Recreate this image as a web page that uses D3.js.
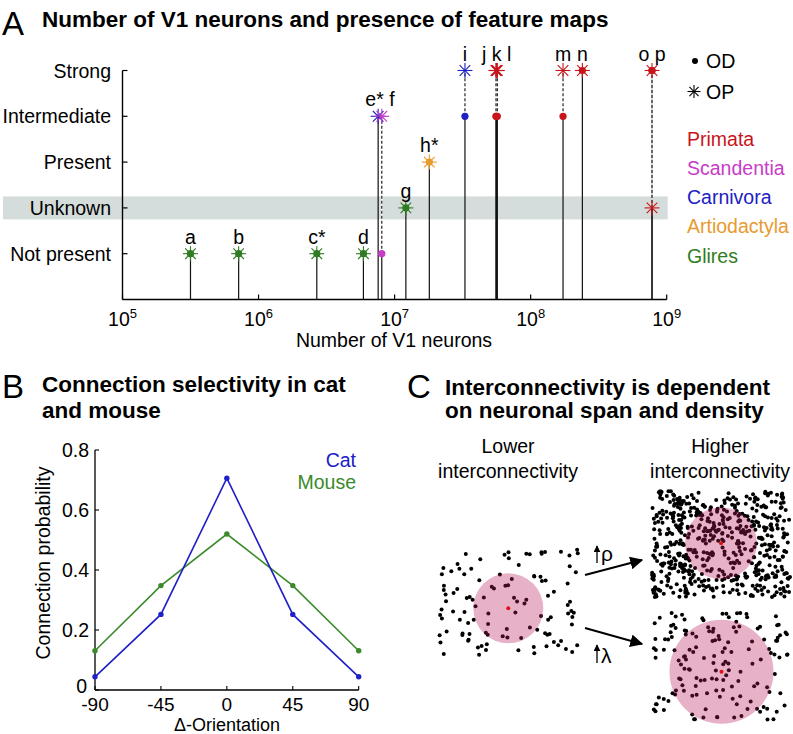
<!DOCTYPE html>
<html>
<head>
<meta charset="utf-8">
<script src="https://cdn.jsdelivr.net/npm/d3@7"></script>
<style>
  html, body { margin: 0; padding: 0; background: #fff; }
  svg { display: block; font-family: "Liberation Sans", Arial, Helvetica, sans-serif; }
</style>
</head>
<body>
<svg id="fig" width="793" height="734"></svg>
<script>
// ---------------- Panel A data ----------------
const levelNames = ["Not present", "Unknown", "Present", "Intermediate", "Strong"]; // values 1..5
const taxa = ["Primata", "Scandentia", "Carnivora", "Artiodactyla", "Glires"];
const taxonColors = ["#c8141a", "#c83cc8", "#2020c4", "#e89a30", "#2f7d22"];
const speciesLabels = ["a", "b", "c*", "d", "e*", "f", "g", "h*", "i", "j", "k", "l", "m", "n", "o", "p"];
const speciesNeurons = [3.16e5, 7.14e5, 2.68e6, 5.9e6, 7.57e6, 8.05e6, 1.21e7, 1.80e7, 3.29e7, 5.55e7, 5.62e7, 5.69e7, 1.73e8, 2.40e8, 7.8e8, 7.8e8];
const speciesTaxon = ["Glires", "Glires", "Glires", "Glires", "Carnivora", "Scandentia", "Glires", "Artiodactyla", "Carnivora", "Primata", "Primata", "Primata", "Primata", "Primata", "Primata", "Primata"];
// OD level (dot) and OP level (asterisk); null = not shown
const speciesOD = [1, 1, 1, 1, null, 1, 2, 3, 4, 4, 4, 4, 4, 5, 5, 5];
const speciesOP = [1, 1, 1, 1, 4, 4, 2, 3, 5, 5, 5, 5, 5, 5, 5, 2];
const xTickExps = [5, 6, 7, 8, 9];

// ---------------- Panel B data ----------------
const orientations = [-90, -45, 0, 45, 90];
const catProb = [0.044, 0.252, 0.706, 0.252, 0.044];
const mouseProb = [0.131, 0.348, 0.520, 0.348, 0.131];
const bYTicks = [0, 0.2, 0.4, 0.6, 0.8];
const bYTickLabels = ["0", "0.2", "0.4", "0.6", "0.8"];

// ---------------- Panel C (schematic) ----------------
const cPanels = ["lower", "higherDensity", "higherSpan"];
const cDotCounts = [110, 560, 150];

const svg = d3.select("#fig");
const FS = 19.5, FSB = 22.5;
const color = t => taxonColors[taxa.indexOf(t)];

function asterisk(g, cx, cy, r, col, w) {
  [0, 45, 90, 135].forEach(a => {
    const rad = a * Math.PI / 180;
    g.append("line")
      .attr("x1", cx - r * Math.cos(rad)).attr("y1", cy - r * Math.sin(rad))
      .attr("x2", cx + r * Math.cos(rad)).attr("y2", cy + r * Math.sin(rad))
      .attr("stroke", col).attr("stroke-width", w);
  });
}

// ================= PANEL A =================
const xA = d3.scaleLog().domain([1e5, 1e9]).range([122.5, 666.7]);
const yA = d3.scaleLinear().domain([0, 5]).range([299.5, 70.5]);

svg.append("text").attr("x", 2).attr("y", 35).attr("font-size", 33).text("A");
svg.append("text").attr("x", 42).attr("y", 27).attr("font-size", FSB).attr("font-weight", "bold")
  .text("Number of V1 neurons and presence of feature maps");

svg.append("rect").attr("x", 3).attr("y", yA(2) - 11.5).attr("width", xA(1e9) + 1 - 3).attr("height", 23)
  .attr("fill", "#d4dddb");

const gA = svg.append("g");
gA.append("line").attr("x1", xA(1e5)).attr("x2", xA(1e9)).attr("y1", yA(0)).attr("y2", yA(0))
  .attr("stroke", "#000").attr("stroke-width", 1.4);
gA.append("line").attr("x1", xA(1e5)).attr("x2", xA(1e5)).attr("y1", yA(0)).attr("y2", yA(5))
  .attr("stroke", "#000").attr("stroke-width", 1.4);
xTickExps.forEach(e => {
  const x = xA(Math.pow(10, e));
  gA.append("line").attr("x1", x).attr("x2", x).attr("y1", yA(0)).attr("y2", yA(0) - 5)
    .attr("stroke", "#000").attr("stroke-width", 1.2);
  const t = gA.append("text").attr("x", x).attr("y", 326).attr("text-anchor", "middle").attr("font-size", FS);
  t.append("tspan").text("10");
  t.append("tspan").attr("dy", -8).attr("font-size", 13).text(e);
});
levelNames.forEach((name, i) => {
  const y = yA(i + 1);
  gA.append("line").attr("x1", xA(1e5)).attr("x2", xA(1e5) + 5).attr("y1", y).attr("y2", y)
    .attr("stroke", "#000").attr("stroke-width", 1.2);
  gA.append("text").attr("x", 111).attr("y", y).attr("dy", "0.36em").attr("text-anchor", "end")
    .attr("font-size", FS).text(name);
});
gA.append("text").attr("x", 394).attr("y", 347).attr("text-anchor", "middle").attr("font-size", FS)
  .text("Number of V1 neurons");

const species = speciesLabels.map((lab, i) => ({
  lab, n: speciesNeurons[i], taxon: speciesTaxon[i], od: speciesOD[i], op: speciesOP[i]
}));

species.forEach(s => {
  const top = s.od == null ? s.op : Math.min(s.od, s.op);
  gA.append("line").attr("x1", xA(s.n)).attr("x2", xA(s.n)).attr("y1", yA(0)).attr("y2", yA(top))
    .attr("stroke", "#111").attr("stroke-width", 1.2);
});
species.forEach(s => {
  if (s.od == null || s.od === s.op) return;
  const lo = Math.min(s.od, s.op), hi = Math.max(s.od, s.op);
  const x = xA(s.n);
  gA.append("line").attr("x1", x).attr("x2", x).attr("y1", yA(lo)).attr("y2", yA(hi))
    .attr("stroke", "#fff").attr("stroke-width", 1.6).attr("stroke-opacity", 0.9);
  gA.append("line").attr("x1", x).attr("x2", x).attr("y1", yA(lo)).attr("y2", yA(hi))
    .attr("stroke", "#222").attr("stroke-width", 1.2).attr("stroke-dasharray", "3,2");
});
species.forEach(s => {
  const x = xA(s.n), c = color(s.taxon);
  if (s.op != null) asterisk(gA, x, yA(s.op), 7.5, c, 1.1);
  if (s.od != null) gA.append("circle").attr("cx", x).attr("cy", yA(s.od)).attr("r", 3.6).attr("fill", c);
});
const groups = [];
species.forEach(s => {
  const x = xA(s.n);
  const top = Math.max(s.od || 0, s.op || 0);
  const g = groups.find(gr => Math.abs(gr.x0 - x) < 6);
  if (g) { g.labs.push(s.lab); g.xs.push(x); g.top = Math.max(g.top, top); }
  else groups.push({ x0: x, xs: [x], labs: [s.lab], top });
});
groups.forEach(g => {
  gA.append("text").attr("x", d3.mean(g.xs)).attr("y", yA(g.top) - 10).attr("text-anchor", "middle")
    .attr("font-size", FS).text(g.labs.join(" "));
});

svg.append("circle").attr("cx", 695).attr("cy", 61).attr("r", 3).attr("fill", "#000");
svg.append("text").attr("x", 706).attr("y", 61).attr("dy", "0.36em").attr("font-size", FS).text("OD");
asterisk(svg, 694, 91.5, 6.5, "#000", 1.1);
svg.append("text").attr("x", 706).attr("y", 91.5).attr("dy", "0.36em").attr("font-size", FS).text("OP");
taxa.forEach((t, i) => {
  svg.append("text").attr("x", 687).attr("y", 138.5 + i * 29.3).attr("dy", "0.36em")
    .attr("font-size", FS).attr("fill", taxonColors[i]).text(t);
});

// ================= PANEL B =================
svg.append("text").attr("x", 2).attr("y", 398).attr("font-size", 33).text("B");
svg.append("text").attr("x", 42).attr("y", 392).attr("font-size", FSB).attr("font-weight", "bold")
  .text("Connection selectivity in cat");
svg.append("text").attr("x", 42).attr("y", 418).attr("font-size", FSB).attr("font-weight", "bold")
  .text("and mouse");

const xB = d3.scaleLinear().domain([-90, 90]).range([95, 358.7]);
const yB = d3.scaleLinear().domain([0, 0.8]).range([690, 450]);
const gB = svg.append("g");
gB.append("line").attr("x1", xB(-90)).attr("x2", xB(90)).attr("y1", yB(0)).attr("y2", yB(0))
  .attr("stroke", "#000").attr("stroke-width", 1.3);
gB.append("line").attr("x1", xB(-90)).attr("x2", xB(-90)).attr("y1", yB(0)).attr("y2", yB(0.8))
  .attr("stroke", "#000").attr("stroke-width", 1.3);
orientations.forEach(o => {
  gB.append("line").attr("x1", xB(o)).attr("x2", xB(o)).attr("y1", yB(0)).attr("y2", yB(0) - 4)
    .attr("stroke", "#000").attr("stroke-width", 1.1);
  gB.append("text").attr("x", xB(o)).attr("y", 711).attr("text-anchor", "middle").attr("font-size", 19).text(o);
});
bYTicks.forEach((v, i) => {
  gB.append("line").attr("x1", xB(-90)).attr("x2", xB(-90) + 4).attr("y1", yB(v)).attr("y2", yB(v))
    .attr("stroke", "#000").attr("stroke-width", 1.1);
  gB.append("text").attr("x", v === 0 ? 87 : 89).attr("y", yB(v) - (v === 0 ? 4 : 0)).attr("dy", "0.36em").attr("text-anchor", "end")
    .attr("font-size", FS).text(bYTickLabels[i]);
});
gB.append("text").attr("x", 227).attr("y", 731).attr("text-anchor", "middle").attr("font-size", 18)
  .text("Δ-Orientation");
gB.append("text").attr("transform", "translate(50,563) rotate(-90)").attr("text-anchor", "middle")
  .attr("font-size", FS).text("Connection probability");

const lineB = d3.line().x((d, i) => xB(orientations[i])).y(d => yB(d));
[[mouseProb, "#3a8a2a"], [catProb, "#2020c8"]].forEach(([vals, col]) => {
  gB.append("path").attr("d", lineB(vals)).attr("fill", "none").attr("stroke", col).attr("stroke-width", 1.6);
  vals.forEach((v, i) => gB.append("circle").attr("cx", xB(orientations[i])).attr("cy", yB(v)).attr("r", 2.7).attr("fill", col));
});
gB.append("text").attr("x", 356).attr("y", 467).attr("text-anchor", "end").attr("font-size", FS)
  .attr("fill", "#2020c8").text("Cat");
gB.append("text").attr("x", 356).attr("y", 489).attr("text-anchor", "end").attr("font-size", FS)
  .attr("fill", "#3a8a2a").text("Mouse");

// ================= PANEL C =================
svg.append("text").attr("x", 407).attr("y", 398).attr("font-size", 33).text("C");
svg.append("text").attr("x", 445).attr("y", 395).attr("font-size", FSB).attr("font-weight", "bold")
  .text("Interconnectivity is dependent");
svg.append("text").attr("x", 445).attr("y", 418).attr("font-size", FSB).attr("font-weight", "bold")
  .text("on neuronal span and density");

[["Lower", 508], ["Higher", 720]].forEach(([w, cx]) => {
  svg.append("text").attr("x", cx).attr("y", 453).attr("text-anchor", "middle").attr("font-size", FS).text(w);
  svg.append("text").attr("x", cx).attr("y", 478).attr("text-anchor", "middle").attr("font-size", FS).text("interconnectivity");
});

const boxes = {
  lower: { x0: 438, x1: 578, y0: 548, y1: 656, cx: 508.3, cy: 608.3, r: 35 },
  higherDensity: { x0: 652, x1: 790, y0: 491, y1: 597, cx: 721, cy: 543.3, r: 36 },
  higherSpan: { x0: 652, x1: 790, y0: 612, y1: 720, cx: 721.5, cy: 671.7, r: 52 }
};
const rng = d3.randomLcg(0.4242); // fixed seed: schematic dot texture
cPanels.forEach((k, i) => {
  const b = boxes[k];
  const g = svg.append("g");
  for (let j = 0; j < cDotCounts[i]; j++) {
    const x = b.x0 + rng() * (b.x1 - b.x0), y = b.y0 + rng() * (b.y1 - b.y0);
    g.append("circle").attr("cx", x).attr("cy", y).attr("r", 2).attr("fill", "#000");
  }
  g.append("circle").attr("cx", b.cx).attr("cy", b.cy).attr("r", b.r).attr("fill", "#b81e5c").attr("fill-opacity", 0.34);
  g.append("circle").attr("cx", b.cx).attr("cy", b.cy).attr("r", 2).attr("fill", "#e01010");
});

const defs = svg.append("defs");
defs.append("marker").attr("id", "ah").attr("viewBox", "0 0 10 10").attr("refX", 9).attr("refY", 5)
  .attr("markerWidth", 7).attr("markerHeight", 7).attr("markerUnits", "userSpaceOnUse").attr("orient", "auto")
  .append("path").attr("d", "M0,0 L10,5 L0,10 z").attr("fill", "#000");
defs.append("marker").attr("id", "ahBig").attr("viewBox", "0 0 10 10").attr("refX", 9).attr("refY", 5)
  .attr("markerWidth", 13).attr("markerHeight", 13).attr("markerUnits", "userSpaceOnUse").attr("orient", "auto")
  .append("path").attr("d", "M0,0 L10,5 L0,10 z").attr("fill", "#000");
svg.append("line").attr("x1", 585).attr("y1", 575).attr("x2", 642).attr("y2", 560)
  .attr("stroke", "#000").attr("stroke-width", 2).attr("marker-end", "url(#ahBig)");
svg.append("line").attr("x1", 585).attr("y1", 628).attr("x2", 642).attr("y2", 644)
  .attr("stroke", "#000").attr("stroke-width", 2).attr("marker-end", "url(#ahBig)");
svg.append("line").attr("x1", 597).attr("y1", 563).attr("x2", 597).attr("y2", 546)
  .attr("stroke", "#000").attr("stroke-width", 1.3).attr("marker-end", "url(#ah)");
svg.append("text").attr("x", 601).attr("y", 561).attr("font-size", 21).text("ρ");
svg.append("line").attr("x1", 597).attr("y1", 663).attr("x2", 597).attr("y2", 645)
  .attr("stroke", "#000").attr("stroke-width", 1.3).attr("marker-end", "url(#ah)");
svg.append("text").attr("x", 601).attr("y", 663).attr("font-size", 21).text("λ");
</script>
</body>
</html>
